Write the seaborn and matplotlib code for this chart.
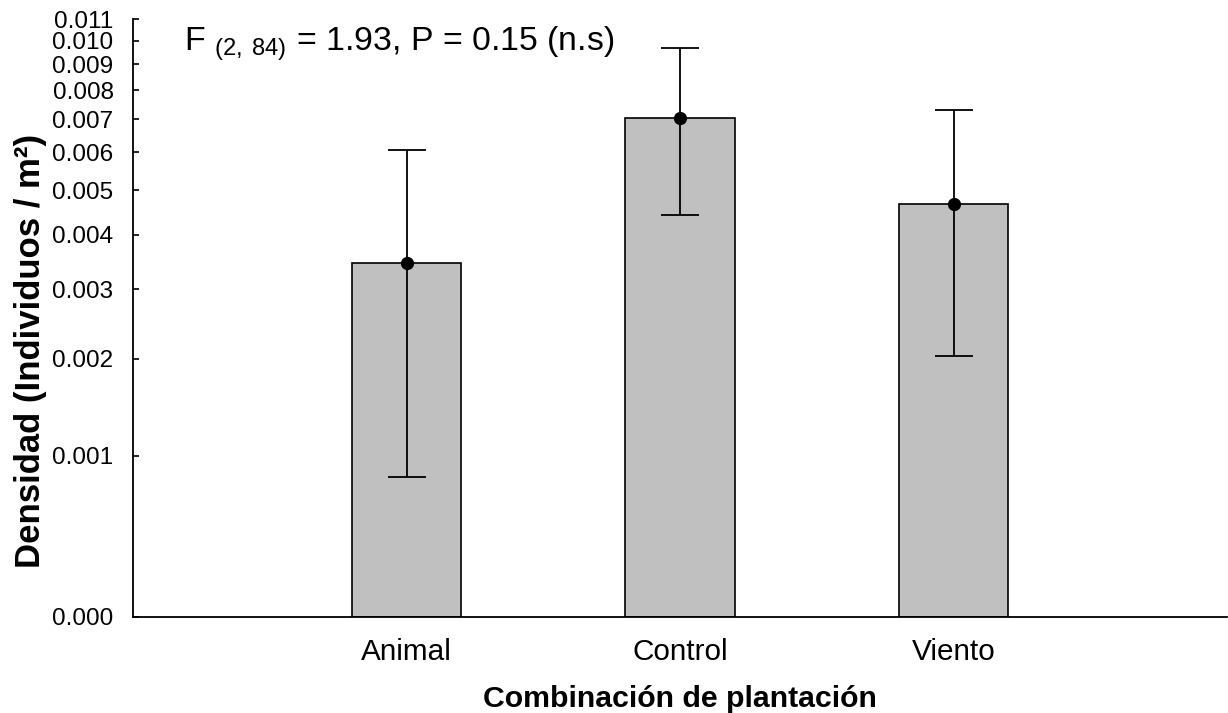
import numpy as np
import pandas as pd
import matplotlib
matplotlib.use("Agg")
import matplotlib.pyplot as plt
import seaborn as sns

# Mean density per planting combination and its error (individuals / m^2)
categories = ["Animal", "Control", "Viento"]
means = [0.00345, 0.00705, 0.00467]
errors = [0.00262, 0.00263, 0.00263]
y_ticks = [0.000, 0.001, 0.002, 0.003, 0.004, 0.005, 0.006,
           0.007, 0.008, 0.009, 0.010, 0.011]

sns.set_style("ticks")
plt.rcParams["font.family"] = ["Liberation Sans", "DejaVu Sans"]
plt.rcParams["mathtext.fontset"] = "custom"
plt.rcParams["mathtext.rm"] = "Liberation Sans"
plt.rcParams["mathtext.it"] = "Liberation Sans:italic"
plt.rcParams["mathtext.bf"] = "Liberation Sans:bold"
for key in ("text.color", "axes.labelcolor", "xtick.color", "ytick.color",
            "axes.edgecolor"):
    plt.rcParams[key] = "black"

df = pd.DataFrame({"Combinación": categories, "Densidad": means})

fig = plt.figure(figsize=(12.28, 7.13), dpi=100)
ax = fig.add_axes([133 / 1228, 1 - 617 / 713, (1227 - 133) / 1228, (617 - 19.3) / 713])

# offset-log scale for the density axis
OFF = 0.0011
ax.set_yscale("function",
              functions=(lambda v: np.log10(np.asarray(v) + OFF),
                         lambda v: 10 ** np.asarray(v) - OFF))

sns.barplot(data=df, x="Combinación", y="Densidad", color="#C0C0C0",
            edgecolor="black", linewidth=1.2, width=0.4, saturation=1,
            errorbar=None, ax=ax)

ax.errorbar(np.arange(len(categories)), means, yerr=errors, fmt="o",
            color="black", markersize=8.5, elinewidth=1.3, capsize=14,
            capthick=1.3, zorder=5)

ax.set_xlim(-1, 3)
ax.set_ylim(0, 0.011)
ax.set_yticks(y_ticks)
ax.set_yticklabels([f"{t:.3f}" for t in y_ticks])
ax.yaxis.set_minor_locator(matplotlib.ticker.NullLocator())

ax.tick_params(axis="y", direction="in", length=4, width=1.2,
               labelsize=17.5, pad=14, colors="black")
ax.tick_params(axis="x", direction="in", length=4, width=1.2,
               labelsize=21.4, pad=15, colors="black")

for side in ("top", "right"):
    ax.spines[side].set_visible(False)
for side in ("left", "bottom"):
    ax.spines[side].set_linewidth(1.3)
    ax.spines[side].set_color("black")

ax.set_xlabel("Combinación de plantación", fontsize=21.8, fontweight="bold")
ax.xaxis.set_label_coords(0.5, -0.113)
ax.set_ylabel("Densidad (Individuos / m²)", fontsize=25, fontweight="bold")
ax.yaxis.set_label_coords(-0.079, 0.445)

fig.text(184 / 1228, 1 - 51 / 713,
         r"F $_{\mathrm{(2,\;84)}}$ = 1.93, P = 0.15 (n.s)",
         fontsize=24.4, va="baseline", ha="left")

fig.savefig("out.png", dpi=100)
